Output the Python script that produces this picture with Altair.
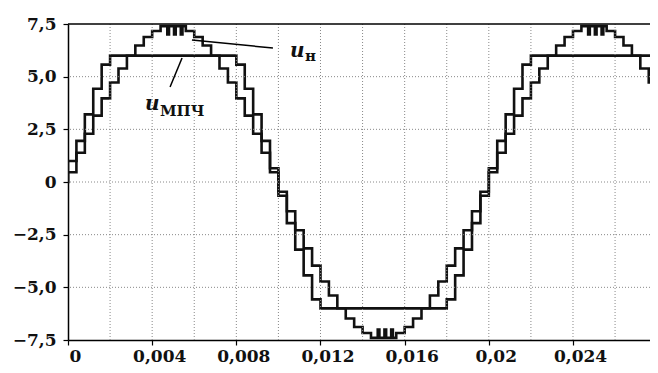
import altair as alt
import pandas as pd

# u_н  (staircase, time in ms, step-after breakpoints)
UN_T = [0, 0, 0.4, 0.8, 1.2, 1.6, 2.0, 2.4, 2.8, 3.2, 3.6, 4.0, 4.4, 4.72, 4.8, 5.04, 5.12, 5.36, 5.44,
        5.6, 6.0, 6.4, 6.8, 7.2, 7.6, 8.0, 8.4, 8.8, 9.2, 9.6,
        10.0, 10.4, 10.8, 11.2, 11.6, 12.0, 12.4, 12.8, 13.2, 13.6, 14.0, 14.4, 14.72, 14.8, 15.04, 15.12, 15.36, 15.44,
        15.6, 16.0, 16.4, 16.8, 17.2, 17.6, 18.0, 18.4, 18.8, 19.2, 19.6,
        20.0, 20.4, 20.8, 21.2, 21.6, 22.0, 22.4, 22.8, 23.2, 23.6, 24.0, 24.4, 24.72, 24.8, 25.04, 25.12, 25.36, 25.44,
        25.6, 26.0, 26.4, 26.8, 27.2, 27.6, 28.0]
UN_V = [0, 0.46, 1.39, 2.29, 3.15, 3.97, 4.72, 5.39, 5.99, 6.48, 6.88, 7.17, 7.40, 7.0, 7.40, 7.0, 7.40, 7.0, 7.40,
        7.17, 6.88, 6.48, 5.99, 5.39, 4.72, 3.97, 3.15, 2.29, 1.39, 0.46,
        -0.46, -1.39, -2.29, -3.15, -3.97, -4.72, -5.39, -5.99, -6.48, -6.88, -7.17, -7.40, -7.0, -7.40, -7.0, -7.40, -7.0, -7.40,
        -7.17, -6.88, -6.48, -5.99, -5.39, -4.72, -3.97, -3.15, -2.29, -1.39, -0.46,
        0.46, 1.39, 2.29, 3.15, 3.97, 4.72, 5.39, 5.99, 6.48, 6.88, 7.17, 7.40, 7.0, 7.40, 7.0, 7.40, 7.0, 7.40,
        7.17, 6.88, 6.48, 5.99, 5.39, 4.72, 4.72]

# u_МПЧ (staircase clipped at +-6)
UM_T = [0, 0, 0.4, 0.8, 1.2, 1.6, 2.0, 8.0, 8.4, 8.8, 9.2, 9.6,
        10.0, 10.4, 10.8, 11.2, 11.6, 12.0, 18.0, 18.4, 18.8, 19.2, 19.6,
        20.0, 20.4, 20.8, 21.2, 21.6, 22.0, 28.0]
UM_V = [0, 1.0, 1.95, 3.21, 4.43, 5.57, 6.0, 5.57, 4.43, 3.21, 1.95, 0.65,
        -0.65, -1.95, -3.21, -4.43, -5.57, -6.0, -5.57, -4.43, -3.21, -1.95, -0.65,
        0.65, 1.95, 3.21, 4.43, 5.57, 6.0, 6.0]

X_TICKS = [0, 4, 8, 12, 16, 20, 24]
Y_TICKS = [-7.5, -5, -2.5, 0, 2.5, 5, 7.5]
GRID_X = [2, 4, 6, 8, 10, 12, 14, 16, 18, 20, 22, 24, 26]
GRID_Y = [-5, -2.5, 0, 2.5, 5]
X_MAX = 27.66

LABEL_U = ["u", "u"]
LABEL_U_T = [3.66, 10.55]
LABEL_U_V = [3.42, 5.93]
LABEL_SUB = ["МПЧ", "н"]
LABEL_SUB_T = [4.37, 11.26]
LABEL_SUB_V = [3.12, 5.75]
LEADER_T1 = [5.89, 5.42]
LEADER_V1 = [6.74, 5.89]
LEADER_T2 = [9.74, 4.85]
LEADER_V2 = [6.36, 4.51]

rows = []
for i, (t, v) in enumerate(zip(UN_T, UN_V)):
    rows.append({"t": t, "v": v, "s": "un", "i": i})
for i, (t, v) in enumerate(zip(UM_T, UM_V)):
    rows.append({"t": t, "v": v, "s": "um", "i": i})
df = pd.DataFrame(rows)

xscale = alt.Scale(domain=[0, X_MAX], nice=False, zero=False)
yscale = alt.Scale(domain=[-7.5, 7.5], nice=False, zero=False)

FONT = "DejaVu Serif"

xaxis = alt.Axis(values=X_TICKS, title=None, grid=False,
                 labelExpr="replace(format(datum.value/1000, '~g'), '.', ',')",
                 domainColor="black", domainWidth=1.5, tickColor="black", tickWidth=1.2, tickSize=5,
                 labelFont=FONT, labelFontSize=17, labelFontWeight="bold", labelColor="#111",
                 labelPadding=3, labelOffset=7, labelFlush=False, labelOverlap=False)
yaxis = alt.Axis(values=Y_TICKS, title=None, grid=False,
                 labelExpr="datum.value == 0 ? '0' : replace(format(datum.value, '.1f'), '.', ',')",
                 domainColor="black", domainWidth=1.5, tickColor="black", tickWidth=1.2, tickSize=5,
                 labelFont=FONT, labelFontSize=17, labelFontWeight="bold", labelColor="#111",
                 labelPadding=7, labelFlush=False, labelOverlap=False)


def X(f):
    return alt.X(f, scale=xscale, axis=xaxis)


def Y(f):
    return alt.Y(f, scale=yscale, axis=yaxis)


lines = alt.Chart(df).mark_line(
    interpolate="step-after", strokeWidth=2.6, color="#111", clip=True,
    strokeJoin="miter", strokeCap="square").encode(
    x=X("t:Q"), y=Y("v:Q"), detail="s:N", order="i:Q")

grid_v = alt.Chart(pd.DataFrame({"x": GRID_X})).mark_rule(
    color="#888", strokeDash=[1, 2], strokeWidth=1).encode(x=X("x:Q"))
grid_h = alt.Chart(pd.DataFrame({"y": GRID_Y})).mark_rule(
    color="#888", strokeDash=[1, 2], strokeWidth=1).encode(y=Y("y:Q"))
top = alt.Chart(pd.DataFrame({"y": [7.5]})).mark_rule(
    color="black", strokeWidth=1.5).encode(y=Y("y:Q"))

leaders = alt.Chart(pd.DataFrame({"t1": LEADER_T1, "v1": LEADER_V1, "t2": LEADER_T2, "v2": LEADER_V2})).mark_rule(
    color="black", strokeWidth=1.5).encode(
    x=X("t1:Q"), y=Y("v1:Q"), x2="t2:Q", y2="v2:Q")

lab_u = alt.Chart(pd.DataFrame({"t": LABEL_U_T, "v": LABEL_U_V, "txt": LABEL_U})).mark_text(
    align="left", baseline="alphabetic", font=FONT, fontSize=20, fontStyle="italic",
    fontWeight="bold", color="#111").encode(
    x=X("t:Q"), y=Y("v:Q"), text="txt:N")
lab_sub = alt.Chart(pd.DataFrame({"t": LABEL_SUB_T, "v": LABEL_SUB_V, "txt": LABEL_SUB})).mark_text(
    align="left", baseline="alphabetic", font=FONT, fontSize=15,
    fontWeight="bold", color="#111").encode(
    x=X("t:Q"), y=Y("v:Q"), text="txt:N")

chart = alt.layer(lines, grid_v, grid_h, top, leaders, lab_u, lab_sub).properties(
    width=582, height=316,
    padding={"left": 60, "top": 16, "right": 0, "bottom": 25},
    autosize=alt.AutoSizeParams(type="none"),
    background="white",
).configure_view(stroke=None)

chart.save("out.html", embed_options={"renderer": "svg", "actions": False})
